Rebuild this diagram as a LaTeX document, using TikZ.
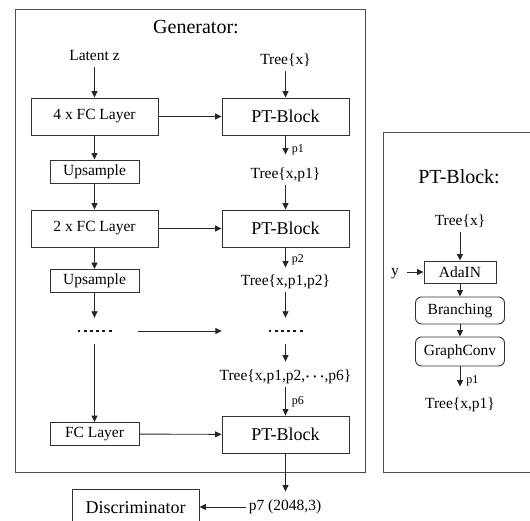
\documentclass[tikz,border=0pt]{standalone}
\usepackage{fontspec}
\setmainfont{Liberation Serif}
\usetikzlibrary{arrows.meta}
\begin{document}
\begin{tikzpicture}[x=1pt,y=-1pt,
  every node/.style={inner sep=0pt, text=black},
  lbl/.style={font=\fontsize{15.5}{18}\selectfont, text height=11pt, text depth=3.5pt, inner ysep=3pt},
  plabel/.style={font=\fontsize{12}{14}\selectfont},
  title/.style={font=\fontsize{20}{24}\selectfont},
  bigbox/.style={draw=black!80, line width=0.9pt, minimum width=127pt, minimum height=37pt, font=\fontsize{15.5}{18}\selectfont},
  ptbox/.style={bigbox, font=\fontsize{18}{22}\selectfont},
  smallbox/.style={draw=black!80, line width=0.9pt, minimum width=89pt, minimum height=23pt, font=\fontsize{15.5}{18}\selectfont},
  roundbox/.style={smallbox, rounded corners=6pt},
  frame/.style={draw=black!70, line width=1pt},
  arr/.style={draw=black!85, line width=0.9pt, -{Triangle[length=6.5pt,width=6pt]}},
  sqdots/.style={draw=black!90, line width=2.8pt, dash pattern=on 2.8pt off 3.44pt}
]
\useasboundingbox (0,0) rectangle (530,521);

% outer frames
\draw[frame] (15,10) rectangle (365,472);
\draw[frame] (383,133) rectangle (545,472);

% ---------- generator ----------
\node[title] (gtitle) at (196,27) {Generator:};
\node[lbl] (z)  at (94.5,57) {Latent z};
\node[lbl] (t0) at (285.5,61) {Tree\{x\}};

\node[bigbox] (fc4) at (94.5,116.5) {4 x FC Layer};
\node[ptbox]  (pt1) at (285.5,116.5) {PT-Block};

\node[smallbox] (up1) at (94.5,171.5) {Upsample};
\node[lbl] (t1) at (285.5,175) {Tree\{x,p1\}};

\node[bigbox] (fc2) at (94.5,228.5) {2 x FC Layer};
\node[ptbox]  (pt2) at (285.5,228.5) {PT-Block};

\node[smallbox] (up2) at (94.5,281) {Upsample};
\node[lbl] (t2) at (285.5,282) {Tree\{x,p1,p2\}};

% rows of dots
\node[minimum width=87pt, minimum height=26pt] (dl) at (94.5,331) {};
\node[minimum width=127pt, minimum height=26pt] (dr) at (285.5,331) {};
\draw[sqdots] ([xshift=-17pt]dl.center) -- ([xshift=17pt]dl.center);
\draw[sqdots] ([xshift=-17pt]dr.center) -- ([xshift=17pt]dr.center);

\node[lbl] (t6) at (285.5,377) {Tree\{x,p1,p2,{\boldmath$\cdots$},p6\}};

\node[smallbox] (fc1) at (94.5,434) {FC Layer};
\node[ptbox]    (pt3) at (285.5,434.5) {PT-Block};

\node[lbl] (p7) at (285,507) {p7 (2048,3)};
\node[ptbox, anchor=north] (disc) at (135.5,489) {Discriminator};

% left column
\draw[arr] (z) -- (fc4);
\draw[arr] (fc4) -- (up1);
\draw[arr] (up1) -- (fc2);
\draw[arr] (fc2) -- (up2);
\draw[arr] (up2) -- (dl);
\draw[arr] (dl) -- (fc1);

% across
\draw[arr] (fc4) -- (pt1);
\draw[arr] (fc2) -- (pt2);
\draw[arr] (dl) -- (dr);
\draw[arr] (fc1) -- (pt3);

% right column
\draw[arr] (t0) -- (pt1);
\draw[arr, shorten >=10pt] (pt1) -- node[plabel, right=6pt] {p1} (t1);
\draw[arr] (t1) -- (pt2);
\draw[arr, shorten >=4pt] (pt2) -- node[plabel, right=6pt] {p2} (t2);
\draw[arr] (t2) -- (dr);
\draw[arr, shorten >=5pt] (dr) -- (t6);
\draw[arr] (t6) -- node[plabel, right=6pt] {p6} (pt3);
\draw[arr, shorten >=5pt] (pt3.south) -- (pt3.south |- p7.north);
\draw[arr, shorten <=3pt] (p7.west) -- (disc.east |- p7.west);

% ---------- PT-Block detail ----------
\node[title] (ptitle) at (459,177) {PT-Block:};
\node[lbl] (rt0) at (460,222) {Tree\{x\}};
\node[smallbox, minimum width=72pt, minimum height=22pt] (ada) at (460,272) {AdaIN};
\node[lbl] (yin) at (395,272) {y};
\node[roundbox, minimum height=27pt] (br) at (460,310.5) {Branching};
\node[roundbox, minimum height=29pt] (gc) at (460,351.5) {GraphConv};
\node[lbl] (rt1) at (460,405) {Tree\{x,p1\}};

\draw[arr] (rt0) -- (ada);
\draw[arr, shorten <=8pt] (yin) -- (ada);
\draw[arr] (ada) -- (br);
\draw[arr] (br) -- (gc);
\draw[arr, shorten >=8pt] (gc) -- node[plabel, right=6pt] {p1} (rt1);
\end{tikzpicture}
\end{document}
